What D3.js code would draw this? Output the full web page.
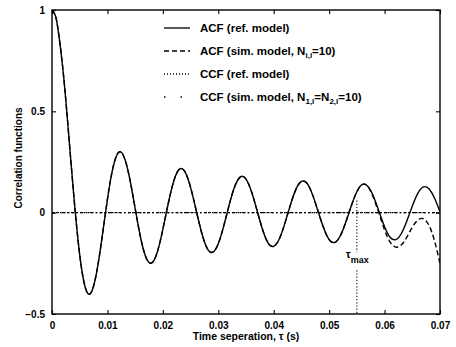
<!DOCTYPE html>
<html><head><meta charset="utf-8">
<script src="https://cdn.jsdelivr.net/npm/d3@7"></script>
<style>body{margin:0;background:#fff}svg{display:block}text{font-family:"Liberation Sans",Arial,Helvetica,sans-serif;fill:#000;font-weight:bold}</style>
</head><body><svg id="c" width="456" height="347"></svg>
<script>
// ---- data ----
const tau = [0,0.0005,0.001,0.002,0.003,0.004,0.005,0.006,0.007,0.008,0.009,
  0.010,0.011,0.012,0.013,0.014,0.015,0.016,0.017,0.018,0.019,
  0.020,0.021,0.022,0.023,0.024,0.025,0.026,0.027,0.028,0.029,
  0.030,0.031,0.032,0.033,0.034,0.035,0.036,0.037,0.038,0.039,
  0.040,0.041,0.042,0.043,0.044,0.045,0.046,0.047,0.048,0.049,
  0.050,0.051,0.052,0.053,0.054,0.055,0.056,0.057,0.058,0.059,
  0.060,0.061,0.062,0.063,0.064,0.065,0.066,0.067,0.068,0.069,0.070];
const acfRef = [1,0.980,0.920,0.699,0.389,0.063,-0.208,-0.369,-0.397,-0.302,-0.129,
  0.066,0.222,0.297,0.275,0.171,0.021,-0.125,-0.224,-0.248,-0.194,
  -0.082,0.049,0.159,0.215,0.201,0.125,0.013,-0.099,-0.176,-0.195,
  -0.153,-0.064,0.042,0.131,0.177,0.166,0.103,0.010,-0.084,-0.150,
  -0.166,-0.130,-0.054,0.037,0.115,0.154,0.145,0.089,0.007,-0.075,
  -0.133,-0.147,-0.115,-0.047,0.034,0.103,0.139,0.129,0.080,0.006,
  -0.069,-0.121,-0.133,-0.104,-0.042,0.032,0.095,0.127,0.118,0.072,0.004];
const acfSim = [1,0.980,0.920,0.699,0.389,0.063,-0.208,-0.369,-0.397,-0.302,-0.129,
  0.066,0.222,0.297,0.275,0.171,0.021,-0.125,-0.224,-0.248,-0.194,
  -0.082,0.049,0.159,0.215,0.201,0.125,0.013,-0.099,-0.176,-0.195,
  -0.153,-0.064,0.042,0.131,0.177,0.166,0.103,0.010,-0.084,-0.150,
  -0.166,-0.130,-0.054,0.037,0.115,0.154,0.145,0.089,0.007,-0.075,
  -0.133,-0.147,-0.115,-0.047,0.034,0.103,0.139,0.129,0.074,-0.004,
  -0.085,-0.145,-0.170,-0.160,-0.122,-0.072,-0.036,-0.030,-0.062,-0.138,-0.250];
const ccfTau = [0, 0.07];
const ccfRef = [0, 0];
const ccfSim = [0, 0];
const xTicks = [0,0.01,0.02,0.03,0.04,0.05,0.06,0.07];
const xTickLabels = ["0","0.01","0.02","0.03","0.04","0.05","0.06","0.07"];
const yTicks = [-0.5,0,0.5,1];
const yTickLabels = ["\u22120.5","0","0.5","1"];
const tauMax = 0.055;
const tauMaxTop = 0.06;
const legendLabels = ["ACF (ref. model)","ACF (sim. model, N","CCF (ref. model)","CCF (sim. model, N"];

// ---- drawing ----
const svg = d3.select("#c");
const L=52,R=440,T=10,B=314;
const x = d3.scaleLinear().domain([0,0.07]).range([L,R]);
const y = d3.scaleLinear().domain([-0.5,1]).range([B,T]);

svg.append("clipPath").attr("id","cp").append("rect")
  .attr("x",L).attr("y",T).attr("width",R-L).attr("height",B-T);
const plot = svg.append("g").attr("clip-path","url(#cp)");

const line = d3.line().x(d=>x(d[0])).y(d=>y(d[1])).curve(d3.curveNatural);
const lineL = d3.line().x(d=>x(d[0])).y(d=>y(d[1]));

function series(tt, vv, dash, w, gen){
  plot.append("path").datum(tt.map((t,i)=>[t,vv[i]]))
    .attr("d", gen||line).attr("fill","none").attr("stroke","#000")
    .attr("stroke-width",w).attr("stroke-dasharray",dash);
}
series(ccfTau, ccfRef, "1.5,2.5", 1.3, lineL);
series(ccfTau, ccfSim, "3,2.5,1.5,2.5", 1.3, lineL);
series(tau, acfRef, null, 1.4);
series(tau, acfSim, "5,3", 1.4);

// tau_max marker
svg.append("line").attr("x1",x(tauMax)).attr("x2",x(tauMax))
  .attr("y1",y(tauMaxTop)).attr("y2",y(-0.195))
  .attr("stroke","#000").attr("stroke-width",1.1).attr("stroke-dasharray","1.2,2");
svg.append("line").attr("x1",x(tauMax)).attr("x2",x(tauMax))
  .attr("y1",y(-0.284)).attr("y2",y(-0.5))
  .attr("stroke","#000").attr("stroke-width",1.1).attr("stroke-dasharray","1.2,2");
const tm = svg.append("text").attr("x",x(0.053)).attr("y",y(-0.222)).attr("font-size",11);
tm.append("tspan").text("\u03c4");
tm.append("tspan").attr("dy",5).attr("font-size",9).text("max");

// axes box
svg.append("rect").attr("x",L).attr("y",T).attr("width",R-L).attr("height",B-T)
  .attr("fill","none").attr("stroke","#000").attr("stroke-width",1.4);

const xa = svg.append("g").attr("transform",`translate(0,${B})`)
  .call(d3.axisBottom(x).tickValues(xTicks).tickSizeInner(-4).tickSizeOuter(0)
    .tickFormat((d,i)=>xTickLabels[i]).tickPadding(8));
const xt = svg.append("g").attr("transform",`translate(0,${T})`)
  .call(d3.axisTop(x).tickValues(xTicks).tickSizeInner(-4).tickSizeOuter(0).tickFormat(""));
const ya = svg.append("g").attr("transform",`translate(${L},0)`)
  .call(d3.axisLeft(y).tickValues(yTicks).tickSizeInner(-4).tickSizeOuter(0)
    .tickFormat((d,i)=>yTickLabels[i]).tickPadding(7));
const yr = svg.append("g").attr("transform",`translate(${R},0)`)
  .call(d3.axisRight(y).tickValues(yTicks).tickSizeInner(-4).tickSizeOuter(0).tickFormat(""));
[xa,xt,ya,yr].forEach(g=>{
  g.select(".domain").remove();
  g.selectAll(".tick line").attr("stroke","#000").attr("stroke-width",1.1);
  g.selectAll(".tick text").attr("font-size",10).attr("font-family","Liberation Sans, Arial, sans-serif")
    .attr("font-weight","bold").attr("fill","#000");
});

// axis titles
svg.append("text").attr("x",246).attr("y",340).attr("text-anchor","middle")
  .attr("font-size",10.5).text("Time seperation, \u03c4 (s)");
svg.append("text").attr("transform","translate(22,158) rotate(-90)").attr("text-anchor","middle")
  .attr("font-size",10).text("Correlation functions");

// legend
const lg = svg.append("g");
const rowsY = [28,51,74,97];
const dashes = [null,"5,3","1,2","1.5,15"];
rowsY.forEach((ry,i)=>{
  lg.append("line").attr("x1",164).attr("x2",190).attr("y1",ry).attr("y2",ry)
    .attr("stroke","#000").attr("stroke-width",1.3).attr("stroke-dasharray",dashes[i]);
  const t = lg.append("text").attr("x",200).attr("y",ry+4).attr("font-size",11.5);
  t.append("tspan").text(legendLabels[i]);
  if(i===1){
    t.append("tspan").attr("dy",3).attr("font-size",8).text("i,l");
    t.append("tspan").attr("dy",-3).text("=10)");
  }
  if(i===3){
    t.append("tspan").attr("dy",3).attr("font-size",8).text("1,l");
    t.append("tspan").attr("dy",-3).text("=N");
    t.append("tspan").attr("dy",3).attr("font-size",8).text("2,l");
    t.append("tspan").attr("dy",-3).text("=10)");
  }
});
</script></body></html>
